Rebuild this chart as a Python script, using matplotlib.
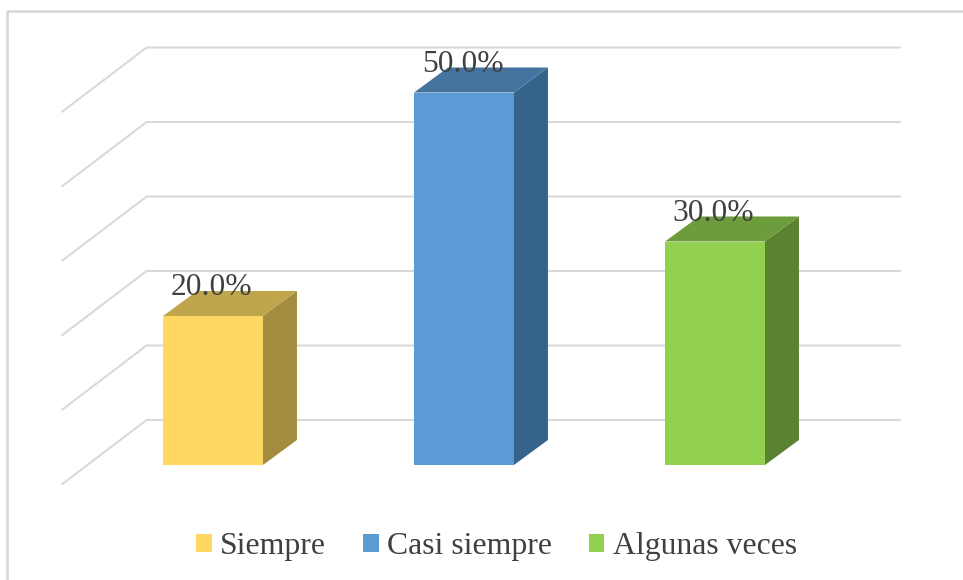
import matplotlib
matplotlib.use('Agg')
import matplotlib.pyplot as plt
from matplotlib.patches import Polygon, Rectangle, Patch

categories = ['Siempre', 'Casi siempre', 'Algunas veces']
values = [20.0, 50.0, 30.0]
grid_levels = [0, 10, 20, 30, 40, 50]

front_colors = ['#FFD864', '#5B9BD5', '#92D050']
top_colors = ['#BFA64D', '#44749F', '#6D9C3C']
side_colors = ['#A38B3F', '#366389', '#5B8230']

GRID = '#D9D9D9'
TEXT = '#404040'

# bar box in data units
BAR_W = 0.398
DEPTH_X = 0.1355
DEPTH_Y = 3.36

# wall lines run from a lower front point to the back corner
WALL_LEFT, WALL_CORNER, WALL_RIGHT = -0.6, -0.2645, 2.736
WALL_DROP, WALL_LIFT = -2.55, 6.04

plt.rcParams['font.family'] = ['Liberation Serif', 'DejaVu Serif']

fig = plt.figure(figsize=(9.63, 5.8), dpi=100)
ax = fig.add_axes([0, 0, 1, 1])
ax.set_xlim(-0.8486, 2.988)
ax.set_ylim(-15.44, 62.42)
ax.axis('off')

# chart border, open on the right where the image ends
ax.plot([2.99, -0.82, -0.82], [60.9, 60.9, -15.4], color=GRID, lw=2, zorder=1, clip_on=True)

for lev in grid_levels:
    ax.plot([WALL_LEFT, WALL_CORNER, WALL_RIGHT],
            [lev + WALL_DROP, lev + WALL_LIFT, lev + WALL_LIFT],
            color=GRID, lw=1.5, zorder=1, solid_joinstyle='miter')

for i, val in enumerate(values):
    x0 = i - BAR_W / 2
    x1 = i + BAR_W / 2
    ax.add_patch(Polygon([(x1, 0), (x1 + DEPTH_X, DEPTH_Y), (x1 + DEPTH_X, val + DEPTH_Y), (x1, val)],
                         facecolor=side_colors[i], edgecolor='none', zorder=2))
    ax.add_patch(Polygon([(x0, val), (x1, val), (x1 + DEPTH_X, val + DEPTH_Y), (x0 + DEPTH_X, val + DEPTH_Y)],
                         facecolor=top_colors[i], edgecolor='none', zorder=2))
    ax.add_patch(Rectangle((x0, 0), BAR_W, val, facecolor=front_colors[i], edgecolor='none', zorder=3))
    ax.annotate('%.1f%%' % val, (i, val), xytext=(-1, 14.8), textcoords='offset points',
                ha='center', va='baseline', fontsize=22.7, color=TEXT, zorder=4)

handles = [Patch(facecolor=c, edgecolor='none', label=n) for c, n in zip(front_colors, categories)]
ax.legend(handles=handles, loc='center', bbox_to_anchor=(0.5155, 0.058), ncol=3, frameon=False,
          fontsize=22.9, labelcolor=TEXT, handlelength=0.5, handleheight=0.5,
          handletextpad=0.26, columnspacing=1.15, borderpad=0)

fig.savefig('out.png', dpi=100)
